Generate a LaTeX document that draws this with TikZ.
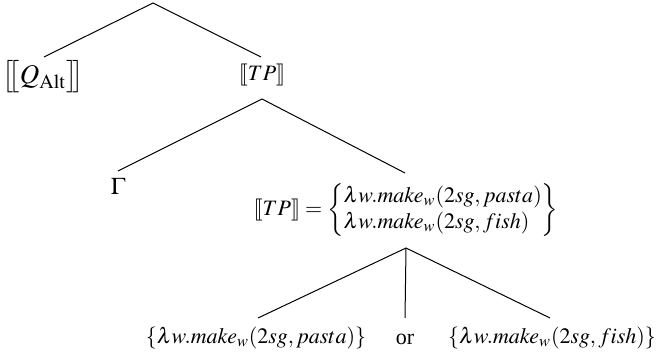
\documentclass[tikz,border=0pt]{standalone}
\usepackage{mathptmx}
\usepackage{fontspec}
\setmainfont{Liberation Serif}
\newcommand{\sbl}{[\mkern-2.6mu[}
\newcommand{\sbr}{]\mkern-2.6mu]}
\newcommand{\Sbl}{\bigl[\mkern-3mu\bigl[}
\newcommand{\Sbr}{\bigr]\mkern-3mu\bigr]}
\begin{document}
\begin{tikzpicture}[x=0.5pt,y=-0.5pt,
  lbl/.style={inner sep=0pt,font=\fontsize{11}{13}\selectfont},
  edge/.style={line width=0.5pt}]
\useasboundingbox (0,0) rectangle (656,356);
\coordinate (root) at (153,3);
\coordinate (qtop) at (44,57);
\coordinate (tptop) at (261,57);
\node[lbl,font=\fontsize{13.5}{16}\selectfont] (q) at (43,77) {$\Sbl Q_{\mathrm{Alt}}\Sbr$};
\node[lbl] (tp) at (262,75) {$\sbl TP\sbr$};
\coordinate (tpbot) at (262,99);
\coordinate (gtop) at (118,171);
\node[lbl,font=\fontsize{12}{14}\selectfont] (g) at (118,186) {$\Gamma$};
\coordinate (tp2top) at (405,173);
\node[lbl] (tp2) at (406,210) {$\sbl TP\sbr=\left\{\begin{array}{@{}l@{}}\lambda w.\mathit{make}_w(2sg, pasta)\\ \lambda w.\mathit{make}_w(2sg, fish)\end{array}\right\}$};
\coordinate (tp2bot) at (406,248);
\coordinate (l1) at (258,318);
\coordinate (l2) at (405,318);
\coordinate (l3) at (550,318);
\node[lbl] (a) at (256,338) {$\{\lambda w.\mathit{make}_w(2sg, pasta)\}$};
\node[lbl] (or) at (405,339) {or};
\node[lbl] (b) at (552,338) {$\{\lambda w.\mathit{make}_w(2sg, fish)\}$};
\draw[edge] (qtop) -- (root) -- (tptop);
\draw[edge] (gtop) -- (tpbot) -- (tp2top);
\draw[edge] (l1) -- (tp2bot) -- (l3);
\draw[edge] (tp2bot) -- (l2);
\end{tikzpicture}
\end{document}
